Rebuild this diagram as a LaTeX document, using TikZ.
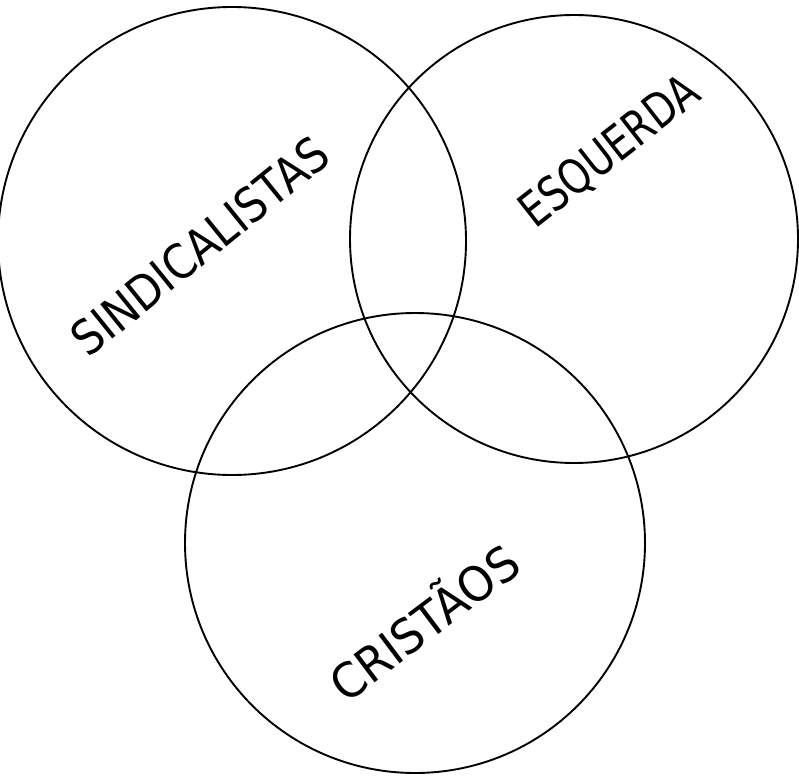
\documentclass[tikz,border=0pt]{standalone}
\usepackage{fontspec}
\setmainfont{DejaVu Sans}
\begin{document}
\begin{tikzpicture}[x=1pt,y=-1pt,
  ring/.style={draw=black,line width=1.9pt},
  lab/.style={font=\fontsize{48}{48}\selectfont, inner sep=0pt}]
\useasboundingbox (0,0) rectangle (799,775);
\node[ring,circle,minimum size=468pt,inner sep=0pt] (sind) at (232,241) {};
\node[ring,circle,minimum size=448pt,inner sep=0pt] (esq) at (574,239) {};
\node[ring,circle,minimum size=460pt,inner sep=0pt] (cri) at (415,543) {};
\node[lab,rotate=39,xscale=0.88] (tsind) at (200,246) {SINDICALISTAS};
\node[lab,rotate=38,xscale=0.80] (tesq) at (610,152) {ESQUERDA};
\node[lab,rotate=37,xscale=0.94] (tcri) at (422,620) {CRISTÃOS};
\end{tikzpicture}
\end{document}
